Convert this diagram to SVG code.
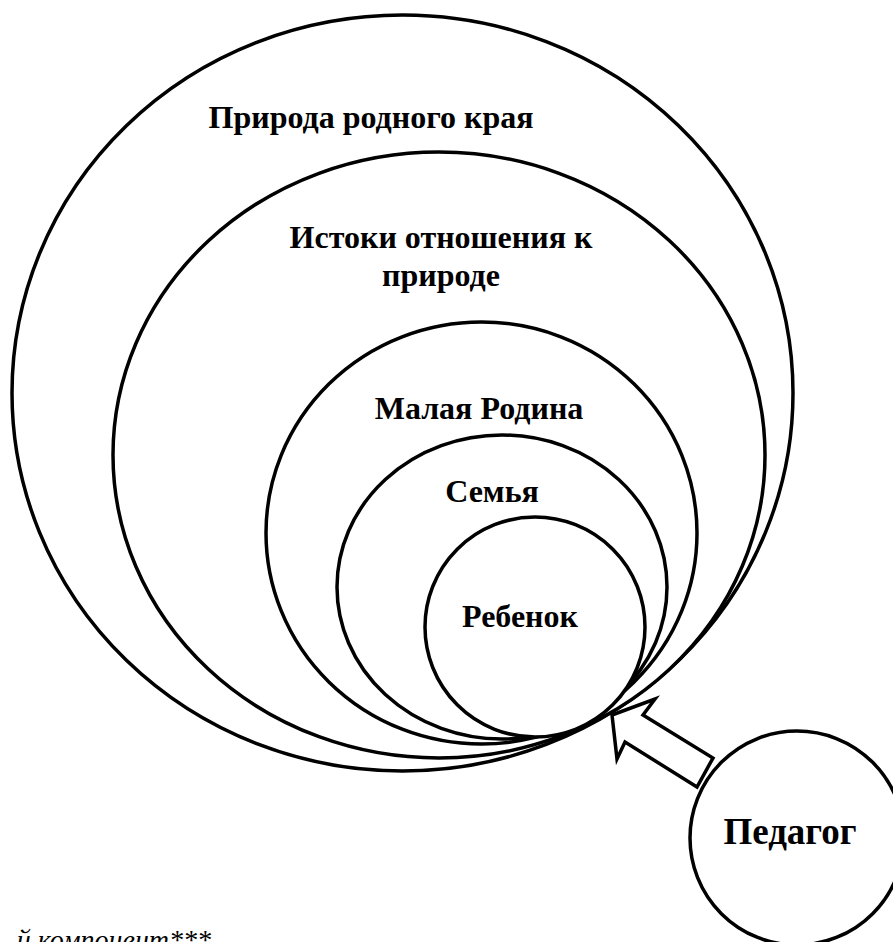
<svg xmlns="http://www.w3.org/2000/svg" width="893" height="942" viewBox="0 0 893 942">
<style>
.sh{fill:#fff;stroke:#000;stroke-width:3.5}
.lb{font-family:"Liberation Serif","Times New Roman",serif;font-weight:bold;font-size:32px;fill:#000;text-anchor:middle}
.nt{font-family:"Liberation Serif","Times New Roman",serif;font-style:italic;font-size:28px;fill:#000}
</style>
<rect width="893" height="942" fill="#fff"/>
<g id="priroda">
<ellipse class="sh" cx="402.5" cy="393" rx="390.5" ry="378"/>
<text class="lb" x="371" y="128">Природа родного края</text>
</g>
<g id="istoki">
<ellipse class="sh" cx="439" cy="455" rx="326" ry="303"/>
<text class="lb" x="441" y="248">Истоки отношения к</text>
<text class="lb" x="441" y="286">природе</text>
</g>
<g id="malaya">
<ellipse class="sh" cx="481.5" cy="533" rx="215.5" ry="211"/>
<text class="lb" x="479" y="419">Малая Родина</text>
</g>
<g id="semya">
<ellipse class="sh" cx="502" cy="587" rx="165" ry="152"/>
<text class="lb" x="492" y="502">Семья</text>
</g>
<g id="rebenok">
<ellipse class="sh" cx="535" cy="627" rx="110" ry="110"/>
<text class="lb" x="520" y="627">Ребенок</text>
</g>
<g id="connectors">
<polygon class="sh" points="612,715 655,699 643,715 713,758 697,787 625,742 617,759"/>
</g>
<g id="pedagog">
<circle class="sh" cx="797" cy="838" r="107"/>
<text class="lb" x="790" y="844" style="font-size:37px">Педагог</text>
</g>
<text class="nt" x="211" y="949" text-anchor="end">й компонент***</text>
</svg>
